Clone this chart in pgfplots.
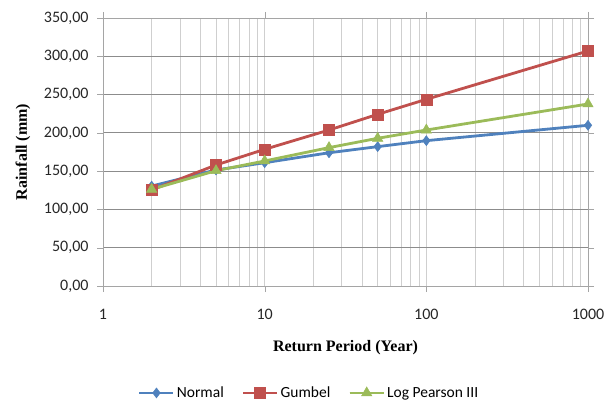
\documentclass[border=0pt]{standalone}
\usepackage{pgfplots}
\pgfplotsset{compat=1.18}
\usepackage{fontspec}
\setmainfont{Liberation Serif}
\newfontfamily\carlito{Carlito}
\definecolor{cblue}{HTML}{4F81BD}
\definecolor{cred}{HTML}{C0504D}
\definecolor{cgreen}{HTML}{9BBB59}
\definecolor{gridmaj}{HTML}{8C8C8C}
\definecolor{gridmin}{HTML}{CFCFCF}
\begin{document}
\begin{tikzpicture}
\begin{axis}[
  scale only axis,
  width=485pt, height=268pt,
  xmode=log, log basis x=10,
  xmin=1, xmax=1000, ymin=0, ymax=350,
  xtick={1,10,100,1000}, xticklabels={1,10,100,1000},
  minor xtick={2,3,4,5,6,7,8,9,20,30,40,50,60,70,80,90,200,300,400,500,600,700,800,900},
  ytick={0,50,...,350},
  /pgf/number format/assume math mode=true,
  yticklabel style={xshift=-5pt, /pgf/number format/.cd, fixed, fixed zerofill, precision=2, use comma, 1000 sep={}},
  tick label style={font=\carlito\fontsize{16}{18}\selectfont, text=black!85},
  xticklabel style={yshift=-14pt},
  axis line style={gridmin!80!black},
  tick style={gridmin!80!black},
  tick align=outside,
  major tick length=6pt,
  minor tick length=0pt,
  xmajorgrids, xminorgrids, ymajorgrids,
  major x grid style={gridmin, line width=0.8pt},
  minor x grid style={gridmin, line width=0.8pt},
  major y grid style={gridmaj, line width=0.8pt},
  xlabel={\bfseries Return Period (Year)},
  ylabel={\bfseries Rainfall (mm)},
  label style={font=\fontsize{16}{18}\selectfont\bfseries},
  xlabel style={at={(axis description cs:0.5,0)}, anchor=center, yshift=-62pt},
  ylabel style={at={(axis description cs:0,0.5)}, anchor=center, yshift=80pt},
  legend style={at={(axis description cs:0.425,-0.399)}, anchor=center, draw=none, fill=none,
    font=\carlito\fontsize{15.5}{17}\selectfont,
    /tikz/every even column/.append style={column sep=16pt}},
  legend columns=3,
  legend image code/.code={\draw[#1] (0pt,0pt) -- (34pt,0pt); \draw[#1, mark repeat=2, mark phase=2] plot coordinates {(0pt,0pt) (17pt,0pt) (34pt,0pt)};},
]
\addplot[cblue, line width=2.8pt, mark=diamond*, mark size=5pt, mark options={solid, fill=cblue, line width=0.5pt}]
  coordinates {(2,130.5) (5,151.5) (10,161) (25,174) (50,182) (100,189.8) (1000,209.9)};
\addlegendentry{Normal}
\addplot[cred, line width=2.8pt, mark=square*, mark size=5.5pt, mark options={solid, fill=cred, line width=0.5pt}]
  coordinates {(2,125.4) (5,158) (10,178.5) (25,203.7) (50,224.2) (100,243.8) (1000,306.9)};
\addlegendentry{Gumbel}
\addplot[cgreen, line width=2.8pt, mark=triangle*, mark size=6pt, mark options={solid, fill=cgreen, line width=0.5pt}]
  coordinates {(2,126.3) (5,150.6) (10,163.3) (25,180.7) (50,192.9) (100,203.7) (1000,237.7)};
\addlegendentry{Log Pearson III}
\end{axis}
\path ([xshift=-103pt,yshift=-117pt]current axis.south west) rectangle ([xshift=28pt,yshift=18pt]current axis.north east);
\end{tikzpicture}
\end{document}
